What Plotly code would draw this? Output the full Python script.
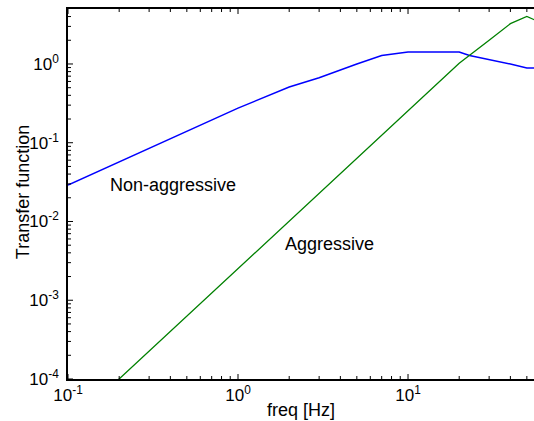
import math
import plotly.graph_objects as go

# Non-aggressive transfer function
freq_na = [0.1, 1, 2, 3, 5, 7, 10, 20, 23, 30, 40, 50, 56]
tf_na = [0.029, 0.275, 0.51, 0.67, 1.0, 1.28, 1.42, 1.42, 1.28, 1.14, 1.0, 0.89, 0.89]

# Aggressive transfer function
freq_ag = [0.1, 0.2, 1, 2, 5, 10, 20, 30, 40, 50, 56]
tf_ag = [2.5e-5, 1e-4, 2.5e-3, 0.01, 0.0625, 0.25, 1.02, 2.0, 3.25, 4.02, 3.6]

x_tickvals = [0.1, 1, 10]
x_ticktext = ["10<sup>-1</sup>", "10<sup>0</sup>", "10<sup>1</sup>"]
y_tickvals = [1e-4, 1e-3, 1e-2, 1e-1, 1]
y_ticktext = ["10<sup>-4</sup>", "10<sup>-3</sup>", "10<sup>-2</sup>", "10<sup>-1</sup>", "10<sup>0</sup>"]

X_RANGE = [-1, 1.741]
Y_RANGE = [-4, 0.698]
W, H = 534, 421
M = dict(l=68, r=0, t=9, b=42)
PW = W - M["l"] - M["r"]
PH = H - M["t"] - M["b"]

font = "Liberation Sans, Arial, sans-serif"

fig = go.Figure()
fig.add_trace(go.Scatter(x=freq_na, y=tf_na, mode="lines",
                         line=dict(color="#0000ff", width=1.5), showlegend=False))
fig.add_trace(go.Scatter(x=freq_ag, y=tf_ag, mode="lines",
                         line=dict(color="#008000", width=1.3), showlegend=False))

fig.add_annotation(x=-0.382, y=-1.533, text="Non-aggressive", showarrow=False,
                   xanchor="center", yanchor="middle",
                   font=dict(size=18, color="black", family=font))
fig.add_annotation(x=0.541, y=-2.282, text="Aggressive", showarrow=False,
                   xanchor="center", yanchor="middle",
                   font=dict(size=18, color="black", family=font))
# axis titles
fig.add_annotation(x=0.5, y=-0.084, xref="paper", yref="paper", text="freq [Hz]",
                   xanchor="center", yanchor="middle",
                   showarrow=False, font=dict(size=18, color="black", family=font))
fig.add_annotation(x=-0.0965, y=0.505, xref="paper", yref="paper", text="Transfer function",
                   xanchor="center", yanchor="middle",
                   textangle=-90, showarrow=False, font=dict(size=18, color="black", family=font))


# tick marks (major at decades, minor at 2..9), drawn inside the axes box
def tick_positions(rng):
    out = []
    for e in range(math.floor(rng[0]), math.ceil(rng[1]) + 1):
        for m in range(1, 10):
            lv = e + math.log10(m)
            if rng[0] - 1e-9 <= lv <= rng[1] + 1e-9:
                out.append(((lv - rng[0]) / (rng[1] - rng[0]), m == 1))
    return out


tick_line = dict(color="black", width=1)
for p, major in tick_positions(X_RANGE):
    L = (5 if major else 3) / PH
    fig.add_shape(type="line", xref="paper", yref="paper", x0=p, x1=p, y0=0, y1=L, line=tick_line)
    fig.add_shape(type="line", xref="paper", yref="paper", x0=p, x1=p, y0=1, y1=1 - L, line=tick_line)
for p, major in tick_positions(Y_RANGE):
    L = (5 if major else 3) / PW
    fig.add_shape(type="line", xref="paper", yref="paper", x0=0, x1=L, y0=p, y1=p, line=tick_line)

fig.update_layout(
    width=W, height=H,
    margin=M,
    paper_bgcolor="white", plot_bgcolor="white",
    font=dict(family=font, size=18, color="black"),
    xaxis=dict(type="log", range=X_RANGE, automargin=False,
               tickmode="array", tickvals=x_tickvals, ticktext=x_ticktext,
               ticks="",
               showline=True, linecolor="black", linewidth=1.5,
               mirror=True, showgrid=False, zeroline=False,
               tickfont=dict(size=17)),
    yaxis=dict(type="log", range=Y_RANGE, automargin=False,
               tickmode="array", tickvals=y_tickvals, ticktext=y_ticktext,
               ticks="",
               showline=True, linecolor="black", linewidth=1.5,
               mirror=False, showgrid=False, zeroline=False,
               ticklabelstandoff=4,
               tickfont=dict(size=17)),
)

fig.write_html("out.html", config={"displayModeBar": False},
               post_script="document.body.style.margin='0';document.body.style.overflow='hidden';")
